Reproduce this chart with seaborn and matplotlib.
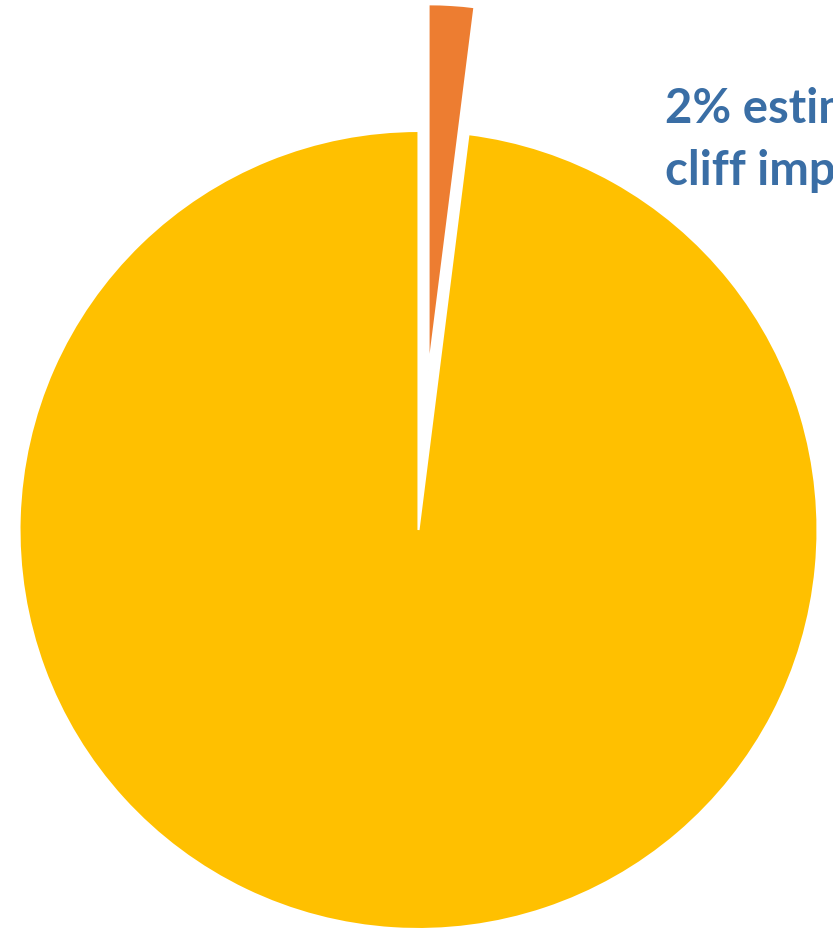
import matplotlib
matplotlib.use("Agg")
import matplotlib.pyplot as plt
import seaborn as sns

categories = ["Fiscal cliff impact", "Other"]
shares = [2, 98]
explode_amount = [160, 0]
label_lines = ["2% estimated", "cliff impact"]

sns.set_theme(style="white")
plt.rcParams['font.family'] = ['Lato', 'DejaVu Sans']
colors = ["#ED7D31", "#FFC000"]

W, H = 833, 931
fig = plt.figure(figsize=(W / 100, H / 100), dpi=100)
ax = fig.add_axes([0, 0, 1, 1])

R = 399
wedges, _ = ax.pie(shares, explode=explode_amount, colors=colors, startangle=90,
                   counterclock=False, radius=R, center=(418.5, H - 530),
                   frame=True, wedgeprops=dict(edgecolor="white", linewidth=1.5))
wedges[0].set_radius(366)
ax.set_xlim(0, W)
ax.set_ylim(0, H)
ax.set_aspect("equal")
ax.axis("off")

ax.text(665, H - 123, label_lines[0], color="#3A6EA5", fontsize=34,
        fontweight="bold", ha="left", va="baseline", clip_on=False)
ax.text(665, H - 185, label_lines[1], color="#3A6EA5", fontsize=34,
        fontweight="bold", ha="left", va="baseline", clip_on=False)

fig.savefig("out.png", dpi=100)
